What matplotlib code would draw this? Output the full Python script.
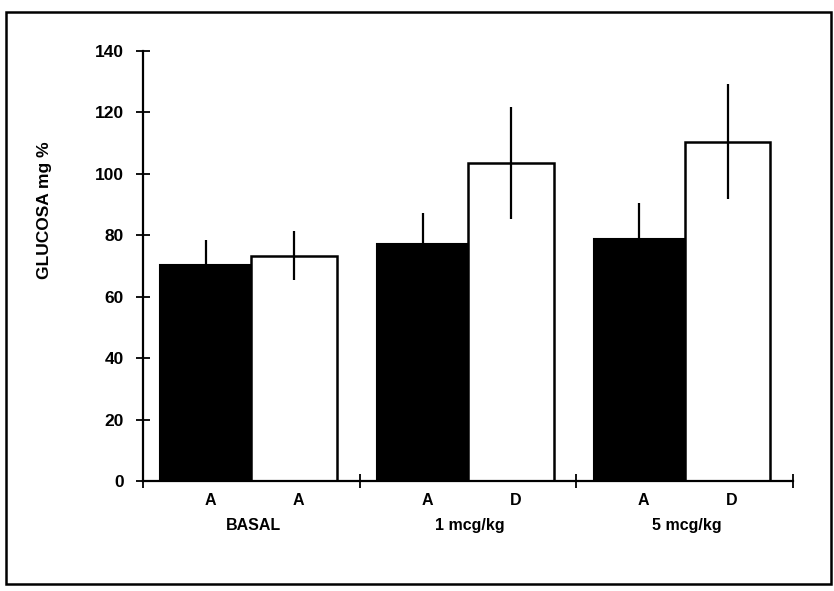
import matplotlib.pyplot as plt
from matplotlib.patches import Rectangle
from matplotlib.transforms import blended_transform_factory

# data
groups = ["BASAL", "1 mcg/kg", "5 mcg/kg"]
left_labels = ["A", "A", "A"]
right_labels = ["A", "D", "D"]
black_vals = [70.3, 77.1, 78.8]
black_err = [8.2, 10.0, 11.6]
white_vals = [73.4, 103.6, 110.5]
white_err = [8.0, 18.2, 18.6]

plt.rcParams['font.family'] = ['Liberation Sans', 'DejaVu Sans']
plt.rcParams['font.weight'] = 'bold'

fig = plt.figure(figsize=(8.34, 5.91), dpi=100)
ax = fig.add_axes([0.1715, 0.1861, 0.7795, 0.7276])

x = list(range(len(groups)))
bw_black = 0.42
bw_white = 0.395

ax.bar([i - bw_black for i in x], black_vals, width=bw_black, align='edge',
       color='black', edgecolor='black', linewidth=1.5)
ax.bar(x, white_vals, width=bw_white, align='edge',
       color='white', edgecolor='black', linewidth=1.8)

ax.errorbar([i - bw_black / 2 for i in x], black_vals, yerr=black_err,
            fmt='none', ecolor='black', elinewidth=1.6, capsize=0)
ax.errorbar([i + bw_white / 2 for i in x], white_vals, yerr=white_err,
            fmt='none', ecolor='black', elinewidth=1.6, capsize=0)

ax.set_xlim(-0.5, 2.5)
ax.set_ylim(0, 140)
ax.set_yticks(range(0, 141, 20))
ax.set_xticks([-0.5, 0.5, 1.5, 2.5])
ax.set_xticklabels([])
ax.tick_params(axis='y', direction='inout', length=10, width=1.3,
               labelsize=12.5, pad=9)
ax.tick_params(axis='x', direction='inout', length=10, width=1.3)
for lab in ax.get_yticklabels():
    lab.set_fontweight('bold')

for s in ['top', 'right']:
    ax.spines[s].set_visible(False)
for s in ['left', 'bottom']:
    ax.spines[s].set_linewidth(1.6)

ax.set_ylabel("GLUCOSA mg %", fontsize=12.5, fontweight='bold')
ax.yaxis.set_label_coords(-0.14, 0.63)

trans = blended_transform_factory(ax.transData, ax.transAxes)
for i in x:
    ax.text(i - bw_black / 2 + 0.02, -0.028, left_labels[i], transform=trans,
            ha='center', va='top', fontsize=11.5, fontweight='bold')
    ax.text(i + bw_white / 2 + 0.02, -0.028, right_labels[i], transform=trans,
            ha='center', va='top', fontsize=11.5, fontweight='bold')
    ax.text(i + 0.01, -0.085, groups[i], transform=trans,
            ha='center', va='top', fontsize=11.5, fontweight='bold')

# frame around the whole picture
fig.patches.append(Rectangle((0.007, 0.012), 0.99, 0.968, transform=fig.transFigure,
                             fill=False, edgecolor='black', linewidth=1.8))

fig.savefig("out.png", dpi=100)
